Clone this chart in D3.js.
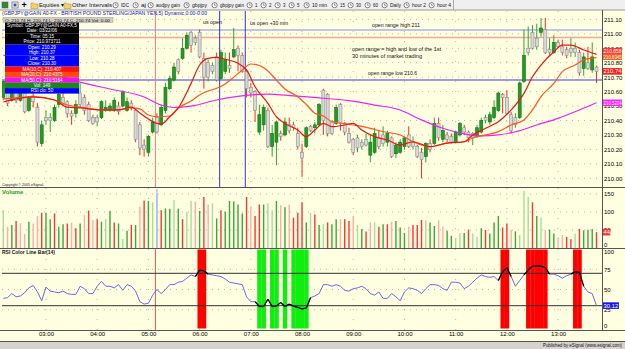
<!DOCTYPE html>
<meta charset="utf-8">
<body>
<script src="https://cdn.jsdelivr.net/npm/d3@7/dist/d3.min.js"></script>
<style>
    html, body { margin: 0; background: #fff; }
    svg { display: block; }
    text { font-family: "Liberation Sans", Arial, sans-serif; }
</style>
<script>
// GBPJPY 5 min bars
var startTime = new Date(2006, 2, 22, 2, 10),
    barMinutes = 5;

var open = [
  210.56,210.62,210.54,210.61,210.54,210.59,210.47,210.57,210.49,210.24,
  210.42,210.42,210.40,210.51,210.56,210.53,210.45,210.45,210.59,210.56,
  210.51,210.42,210.42,210.42,210.47,210.47,210.47,210.50,210.50,210.47,
  210.52,210.47,210.37,210.23,210.18,210.32,210.42,210.37,210.47,210.62,
  210.68,210.82,210.83,210.90,211.01,210.97,211.01,210.83,210.80,210.78,
  210.84,210.69,210.74,210.78,210.84,210.90,210.85,210.74,210.63,210.60,
  210.32,210.37,210.47,210.22,210.25,210.31,210.30,210.37,210.37,210.31,
  210.18,210.22,210.36,210.35,210.37,210.61,210.58,210.39,210.38,210.51,
  210.38,210.31,210.27,210.28,210.25,210.27,210.16,210.18,210.28,210.30,
  210.25,210.28,210.17,210.18,210.22,210.30,210.25,210.22,210.18,210.15,
  210.24,210.24,210.38,210.27,210.30,210.29,210.25,210.30,210.35,210.32,
  210.31,210.29,210.32,210.42,210.39,210.42,210.47,210.58,210.56,210.44,
  210.42,210.42,210.67,210.90,211.01,210.97,211.01,211.03,210.89,210.87,
  210.94,210.91,210.89,210.90,210.90,210.87,210.76,210.80,210.75,210.77];
var high = [
  210.68,210.65,210.64,210.62,210.62,210.61,210.57,210.59,210.52,210.40,
  210.47,210.45,210.51,210.59,210.59,210.54,210.47,210.54,210.66,210.58,
  210.53,210.44,210.44,210.54,210.54,210.52,210.56,210.53,210.61,210.56,
  210.54,210.48,210.39,210.27,210.30,210.42,210.45,210.51,210.66,210.71,
  210.80,210.83,210.97,211.01,211.02,210.99,211.03,210.87,210.82,210.80,
  210.87,210.89,210.87,210.87,211.04,210.92,210.87,210.75,210.66,210.61,
  210.51,210.51,210.49,210.37,210.40,210.33,210.42,210.42,210.39,210.35,
  210.24,210.36,210.37,210.39,210.52,210.62,210.59,210.40,210.51,210.52,
  210.39,210.35,210.28,210.30,210.27,210.31,210.30,210.35,210.33,210.36,
  210.33,210.29,210.25,210.27,210.29,210.36,210.29,210.23,210.21,210.25,
  210.27,210.42,210.42,210.37,210.32,210.31,210.33,210.39,210.37,210.33,
  210.32,210.37,210.42,210.44,210.46,210.54,210.60,210.59,210.61,210.46,
  210.45,210.67,211.03,211.05,211.06,211.07,211.11,211.11,210.97,210.99,
  210.96,210.96,210.91,210.97,210.94,210.89,210.87,210.91,210.94,210.78];
var low = [
  210.54,210.50,210.53,210.52,210.53,210.45,210.46,210.49,210.22,210.22,
  210.37,210.32,210.39,210.49,210.50,210.42,210.37,210.42,210.49,210.44,
  210.39,210.37,210.36,210.41,210.46,210.46,210.46,210.44,210.49,210.46,
  210.47,210.25,210.16,210.15,210.15,210.31,210.31,210.36,210.45,210.61,
  210.67,210.72,210.82,210.89,210.87,210.92,210.83,210.62,210.67,210.72,
  210.67,210.68,210.72,210.73,210.83,210.74,210.73,210.56,210.56,210.39,
  210.30,210.33,210.21,210.15,210.09,210.26,210.29,210.31,210.33,210.20,
  210.01,210.21,210.32,210.31,210.36,210.30,210.29,210.30,210.37,210.33,
  210.30,210.24,210.16,210.18,210.20,210.22,210.11,210.17,210.20,210.22,
  210.22,210.14,210.14,210.17,210.20,210.21,210.20,210.14,210.00,210.11,
  210.18,210.23,210.26,210.25,210.25,210.24,210.24,210.29,210.30,210.25,
  210.23,210.28,210.31,210.38,210.37,210.41,210.46,210.45,210.44,210.31,
  210.35,210.41,210.66,210.85,210.89,210.89,210.98,210.86,210.85,210.86,
  210.90,210.85,210.83,210.84,210.84,210.71,210.71,210.75,210.73,210.66];
var close = [
  210.67,210.52,210.61,210.54,210.60,210.46,210.56,210.53,210.25,210.37,
  210.40,210.40,210.49,210.58,210.52,210.45,210.43,210.51,210.51,210.47,
  210.40,210.38,210.39,210.53,210.49,210.50,210.54,210.46,210.60,210.53,
  210.49,210.27,210.21,210.20,210.29,210.39,210.32,210.49,210.63,210.69,
  210.77,210.74,210.90,210.99,210.92,210.94,210.84,210.70,210.70,210.74,
  210.68,210.87,210.82,210.76,210.89,210.85,210.74,210.62,210.59,210.47,
  210.44,210.49,210.22,210.31,210.39,210.29,210.39,210.33,210.35,210.22,
  210.14,210.35,210.33,210.37,210.51,210.40,210.31,210.31,210.49,210.38,
  210.32,210.25,210.18,210.21,210.22,210.23,210.25,210.31,210.22,210.24,
  210.31,210.15,210.23,210.25,210.28,210.22,210.22,210.15,210.13,210.24,
  210.20,210.38,210.28,210.33,210.27,210.25,210.32,210.38,210.32,210.28,
  210.28,210.35,210.40,210.40,210.44,210.49,210.59,210.56,210.45,210.33,
  210.37,210.66,210.85,210.87,210.90,210.91,211.04,210.87,210.87,210.94,
  210.91,210.87,210.85,210.87,210.87,210.73,210.84,210.76,210.84,210.74];

var volume = [
  105,59,64,75,68,39,73,68,89,98, 98,80,96,59,66,68,70,55,68,92,
  104,78,80,73,80,103,71,68,25,48, 64,64,115,132,131,127,149,105,110,109,
  133,109,80,100,131,129,103,142,121,124, 82,105,101,131,129,121,96,142,115,89,
  121,121,124,105,131,119,113,121,84,98, 127,71,98,93,64,66,71,66,80,80,
  80,75,89,64,53,46,71,71,59,66, 66,73,75,57,42,59,64,64,78,77,
  71,61,77,59,48,34,27,42,42,51, 40,31,55,50,40,71,89,57,68,51,
  46,36,158,142,127,89,84,51,51,40, 29,36,31,24,40,53,49,51,53,44];
// G up, g weak up, R down, r weak down, b selected bar
var volTone = ("grGRrrGrrR" + "GGRGGRrRGr" + "RrRGgGRGgG" + "RGrRGgbRGG" +
               "gGRggrGRrg" + "GRGGGGGRrR" + "RGggGrGrRR" + "RGgRGgRGGr" +
               "RRrgGRrgRG" + "RrGGGrRRRg" + "GGrrGGggGR" + "ggGRGGGRRr" +
               "GgggRGgrGG" + "rrRRgRGGGR").split("");

var rsi = [
  39,40,45,41,42,46,52,55,47,36, 53,48,47,46,48,45,44,44,54,51,
  45,45,54,60,54,54,52,56,49,56, 54,48,35,32,33,43,50,45,50,56,
  56,59,60,64,68,66,74,73,69,68, 67,66,63,59,58,57,56,41,35,35,
  29,29,38,29,29.5,34,29,32,29.5,28, 26,27,40,42,45,56,56,54,56,54,
  49,48,51,52,54,51,45,43,47,39, 39,45,41,36,47,52,51,49,45,51,
  56,56,55,51,49,59,59,58,51,54, 59,64,68,66,65,66,61,72,77,66,
  54,61,68,74,79,79,79,77,69,69, 67,64,67,69,72,71,54,47,45,30.12];

// moving averages read at sample bars
var ma10Bars = [0,7,12,15,18,23,27,30,32,34,36,37,39,41,44,46,48,50,52,55,57,59,62,64,66,69,71,73,75,77,80,82,84,87,90,93,96,100,104,108,110,113,116,119,122,124,126,129,131,133,136,139];
var ma10 = [210.528,210.563,210.542,210.493,210.487,210.473,210.473,210.493,210.452,210.41,210.38,210.375,210.426,210.487,210.657,210.784,210.83,210.837,210.824,210.796,210.75,210.634,210.519,210.426,210.38,210.334,210.288,210.334,210.38,210.357,210.369,210.38,210.334,210.288,210.265,210.23,210.253,210.219,210.244,210.253,210.30,210.346,210.392,210.473,210.588,210.703,210.784,210.876,210.922,210.922,210.888,210.858];
var ma20Bars = [0,7,12,15,18,23,27,30,32,34,36,39,41,44,46,48,50,52,54,56,58,60,62,64,66,69,71,73,75,77,80,82,84,87,90,93,96,100,104,108,110,113,116,119,122,124,126,129,131,134,136,139];
var ma20 = [210.549,210.563,210.542,210.507,210.493,210.473,210.473,210.487,210.48,210.438,210.426,210.431,210.487,210.535,210.577,210.604,210.623,210.653,210.70,210.75,210.791,210.781,210.743,210.68,210.618,210.565,210.511,210.45,210.431,210.392,210.379,210.369,210.359,210.338,210.317,210.30,210.253,210.219,210.244,210.253,210.279,210.30,210.323,210.369,210.404,210.473,210.565,210.657,210.738,210.784,210.819,210.8345];
var ma50Bars = [0,18,25,33,37,40,44,50,57,62,68,75,81,87,93,98,103,108,112,116,120,125,130,135,139];
var ma50 = [210.853,210.666,210.618,210.563,210.507,210.49,210.50,210.542,210.574,210.583,210.57,210.554,210.537,210.507,210.473,210.404,210.346,210.307,210.293,210.30,210.322,210.369,210.415,210.473,210.5224];

var levels = [211.026, 210.974, 210.68];
var eventBars = [50.7, 56.7];
var cursorBar = 36;

var priceTicks = [210.0,210.1,210.2,210.3,210.4,210.5,210.6,210.7,210.8,210.9,211.0,211.1];
var volTicks = [0, 50, 100, 150];
var rsiTicks = [0, 25, 50, 75, 100];

var W = 625, H = 349, plotL = 2, plotR = 602;

var svg = d3.select("body").append("svg").attr("width", W).attr("height", H);

var barTime = function(b) { return new Date(+startTime + b * barMinutes * 60000); };
var x = d3.scaleTime().domain([barTime(0), barTime(open.length - 1)]).range([3.3, 596.5]);
var xb = function(b) { return x(barTime(b)); };
var y = d3.scaleLinear().domain([210, 211.1]).range([178.3, 19.35]);
var yv = d3.scaleLinear().domain([0, 150]).range([248, 194]);
var yr = d3.scaleLinear().domain([0, 100]).range([330, 249]);
var half = (xb(1) - xb(0)) / 2;

// backgrounds
svg.append("rect").attr("width", W).attr("height", H).attr("fill", "#ffffe1");
svg.append("rect").attr("width", W).attr("height", 10).attr("fill", "#efefef");
svg.append("rect").attr("y", 342).attr("width", W).attr("height", 7).attr("fill", "#d6d3ce");

// toolbar
var tb = svg.append("g");
tb.append("rect").attr("x", 2).attr("y", 2).attr("width", 6).attr("height", 6).attr("fill", "#2e8b2e").attr("stroke", "#555").attr("stroke-width", 0.5);
tb.append("rect").attr("x", 12).attr("y", 2).attr("width", 6).attr("height", 6).attr("fill", "#fff").attr("stroke", "#444").attr("stroke-width", 0.6);
tb.append("rect").attr("x", 13.5).attr("y", 3.5).attr("width", 3).attr("height", 3).attr("fill", "#3355cc");
tb.append("text").attr("x", 21.5).attr("y", 8).attr("font-size", 9).attr("font-weight", "bold").text("+");
var tools = [
  {icon: "folder", text: "Equities \u25be", x: 31, w: 25},
  {icon: "folder", text: "Other Intervals \u25be", x: 64, w: 45},
  {icon: "clock", text: "IDC", x: 113, w: 8},
  {icon: "clock", text: "aj", x: 133, w: 5},
  {icon: "clock", text: "audjpy gain", x: 148, w: 24},
  {icon: "clock", text: "gbpjpy", x: 184, w: 15},
  {icon: "clock", text: "gbpjpy gain", x: 212, w: 24},
  {icon: "clock", text: "1", x: 247, w: 2.5},
  {icon: "clock", text: "2", x: 261, w: 2.5},
  {icon: "clock", text: "3", x: 275, w: 2.5},
  {icon: "clock", text: "5", x: 289, w: 2.5},
  {icon: "clock", text: "10 min", x: 304, w: 15},
  {icon: "clock", text: "15", x: 332, w: 5},
  {icon: "clock", text: "30", x: 348, w: 5},
  {icon: "clock", text: "60", x: 365, w: 5},
  {icon: "clock", text: "Daily", x: 382, w: 11},
  {icon: "clock", text: "hour 2", x: 404, w: 14},
  {icon: "clock", text: "hour 4", x: 429, w: 14}
];
tools.forEach(function(t) {
  if (t.icon === "folder") {
    tb.append("path").attr("d", "M" + t.x + ",3h2.5l1,1h3.5v4.5h-7z")
      .attr("fill", "#f5d35f").attr("stroke", "#a88a2a").attr("stroke-width", 0.5);
  } else {
    tb.append("circle").attr("cx", t.x + 2.6).attr("cy", 5.2).attr("r", 2.6)
      .attr("fill", "#fff").attr("stroke", "#333").attr("stroke-width", 0.6);
    tb.append("path").attr("d", "M" + (t.x + 2.6) + ",3.6v1.7h1.3").attr("fill", "none")
      .attr("stroke", "#333").attr("stroke-width", 0.5);
  }
  tb.append("text").attr("x", t.x + 8).attr("y", 7.3).attr("font-size", 5.6)
    .attr("textLength", t.w).attr("lengthAdjust", "spacingAndGlyphs").attr("fill", "#111").text(t.text);
});
tb.append("line").attr("x1", 453.5).attr("x2", 453.5).attr("y1", 0).attr("y2", 10).attr("stroke", "#aaa");
svg.append("line").attr("x1", 0).attr("x2", W).attr("y1", 10).attr("y2", 10).attr("stroke", "#999");

// grids
var grid = svg.append("g").attr("stroke", "#c99a86").attr("stroke-width", 0.8).attr("stroke-dasharray", "1,5");
grid.selectAll(".hp").data(priceTicks).enter().append("line")
  .attr("x1", plotL).attr("x2", plotR).attr("y1", function(d) { return y(d); }).attr("y2", function(d) { return y(d); });
grid.selectAll(".hv").data([50, 100, 150]).enter().append("line")
  .attr("x1", plotL).attr("x2", plotR).attr("y1", function(d) { return yv(d); }).attr("y2", function(d) { return yv(d); });
grid.selectAll(".hr").data([25, 50, 75]).enter().append("line")
  .attr("x1", plotL).attr("x2", plotR).attr("y1", function(d) { return yr(d); }).attr("y2", function(d) { return yr(d); });
var hours = x.ticks(d3.timeHour.every(1));
[[11, 187], [188, 248], [249, 330]].forEach(function(p) {
  grid.selectAll(null).data(hours).enter().append("line")
    .attr("stroke-dasharray", "1,9")
    .attr("x1", function(d) { return x(d); }).attr("x2", function(d) { return x(d); })
    .attr("y1", p[0]).attr("y2", p[1]);
});

// horizontal levels
var levelColors = ["#aab2ee", "#f2a898", "#3b3bdc"];
svg.selectAll(".lvl").data(levels).enter().append("line")
  .attr("x1", plotL).attr("x2", plotR)
  .attr("y1", function(d) { return y(d); }).attr("y2", function(d) { return y(d); })
  .attr("stroke", function(d, i) { return levelColors[i]; })
  .attr("stroke-width", function(d, i) { return i < 2 ? 1.6 : 1.1; });

// event verticals
svg.selectAll(".ev").data(eventBars).enter().append("line")
  .attr("x1", function(d) { return xb(d); }).attr("x2", function(d) { return xb(d); })
  .attr("y1", 11).attr("y2", 187).attr("stroke", "#3434cc").attr("stroke-width", 1);

// cursor line
svg.append("line").attr("x1", xb(cursorBar) - 1.5).attr("x2", xb(cursorBar) - 1.5)
  .attr("y1", 11).attr("y2", 187).attr("stroke", "#ee8080").attr("stroke-width", 1);

// candles
var bars = d3.range(open.length).map(function(i) {
  return {i: i, o: open[i], h: high[i], l: low[i], c: close[i],
          up: close[i] > open[i], gain: i === 0 || close[i] >= close[i - 1]};
});
svg.append("clipPath").attr("id", "cp").append("rect")
  .attr("x", plotL).attr("y", 11).attr("width", plotR - plotL).attr("height", 176);
var cg = svg.append("g").attr("clip-path", "url(#cp)");

var c = cg.selectAll(".cd").data(bars).enter().append("g");
c.append("line")
  .attr("x1", function(d) { return xb(d.i); }).attr("x2", function(d) { return xb(d.i); })
  .attr("y1", function(d) { return y(d.h); }).attr("y2", function(d) { return y(d.l); })
  .attr("stroke", function(d) { return d.up || d.gain ? "#2fa82f" : "#ff2a2a"; })
  .attr("stroke-width", 1);
c.append("rect")
  .attr("x", function(d) { return xb(d.i) - 1.5; })
  .attr("width", 3)
  .attr("y", function(d) { return y(Math.max(d.o, d.c)); })
  .attr("height", function(d) { return Math.max(1, Math.abs(y(d.o) - y(d.c))); })
  .attr("fill", function(d) { return d.up ? "#239b23" : "#d9d9d9"; })
  .attr("stroke", function(d) { return d.up ? "#13701a" : "#8c8c8c"; })
  .attr("stroke-width", 0.6);

var maLine = function(bs, vs) {
  return d3.line().curve(d3.curveMonotoneX)(bs.map(function(b, k) { return [xb(b), y(vs[k])]; }));
};
cg.append("path").attr("d", maLine(ma50Bars, ma50)).attr("fill", "none").attr("stroke", "#ee22ee").attr("stroke-width", 1.2);
cg.append("path").attr("d", maLine(ma20Bars, ma20)).attr("fill", "none").attr("stroke", "#ff5522").attr("stroke-width", 1.2);
cg.append("path").attr("d", maLine(ma10Bars, ma10)).attr("fill", "none").attr("stroke", "#ee1414").attr("stroke-width", 1.2);

// annotations
var notes = [
  {t: "us open", x: 203, y: 23.5, w: 19},
  {t: "us open +30 min", x: 250, y: 24.5, w: 38},
  {t: "open range high 211", x: 372, y: 26.5, w: 48},
  {t: "open range = high and low of the 1st", x: 352, y: 51, w: 89},
  {t: "30 minutes of market trading", x: 352, y: 57.5, w: 70},
  {t: "open range low 210.6", x: 368, y: 74.5, w: 49}
];
svg.selectAll(".note").data(notes).enter().append("text")
  .attr("x", function(d) { return d.x; }).attr("y", function(d) { return d.y; })
  .attr("font-size", 5.6).attr("fill", "#111")
  .attr("textLength", function(d) { return d.w; }).attr("lengthAdjust", "spacingAndGlyphs")
  .text(function(d) { return d.t; });

// title + small ohlc box
svg.append("text").attr("x", 2).attr("y", 15.3).attr("font-size", 6.2).attr("fill", "#1515c8")
  .attr("textLength", 205).attr("lengthAdjust", "spacingAndGlyphs")
  .text("(GBPJPY@GAIN A0-FX - BRITISH POUND STERLING/JAPAN YEN,5) Dynamic,0:00-0:00");
svg.append("rect").attr("x", 3).attr("y", 17.5).attr("width", 110).attr("height", 5).attr("fill", "#d4d0c8").attr("stroke", "#888").attr("stroke-width", 0.4);
svg.append("text").attr("x", 5).attr("y", 21.6).attr("font-size", 4.4).attr("fill", "#000")
  .attr("textLength", 105).attr("lengthAdjust", "spacingAndGlyphs")
  .text("O: 210.74   H: 210.74   L: 210.74   C: 210.74   Vol: 0.00");

// info box
var infoRows = [
  ["#000000", "Symbol: GBPJPY@GAIN A0-FX,5", 5.5],
  ["#000000", "Date: 03/22/06", 5.5],
  ["#000000", "Time: 05:15", 5.5],
  ["#000000", "Price: 210.973711", 5.5],
  ["#0000ff", "Open: 210.29", 5.5],
  ["#0000ff", "High: 210.37", 5.5],
  ["#0000ff", "Low: 210.28", 5.5],
  ["#0000ff", "Close: 210.30", 5.5],
  ["#ff1010", "MA(10,C): 210.407", 5.4],
  ["#ff4a10", "MA(20,C): 210.4375", 5.4],
  ["#ee10ee", "MA(50,C): 210.5164", 5.4],
  ["#158a15", "Vol: 149", 5.4],
  ["#0000ff", "RSI clo: 50", 5.4]
];
var iy = 22.5;
infoRows.forEach(function(r) {
  svg.append("rect").attr("x", 5).attr("y", iy).attr("width", 74).attr("height", r[2] + 0.1).attr("fill", r[0]);
  svg.append("text").attr("x", 42).attr("y", iy + r[2] - 1.2).attr("text-anchor", "middle")
    .attr("font-size", 4.6).attr("fill", "#fff").text(r[1]);
  iy += r[2];
});

svg.append("text").attr("x", 2).attr("y", 185.5).attr("font-size", 3.6).attr("fill", "#222")
  .text("Copyright \u00a9 2005 eSignal.");

// volume
var volColor = {G: "#3aa83a", g: "#a9dc9d", R: "#ff3535", r: "#ffaea6", b: "#a9c2e6"};
svg.selectAll(".vb").data(bars).enter().append("line")
  .attr("x1", function(d) { return xb(d.i); }).attr("x2", function(d) { return xb(d.i); })
  .attr("y1", 248).attr("y2", function(d) { return yv(volume[d.i]); })
  .attr("stroke", function(d) { return volColor[volTone[d.i]]; }).attr("stroke-width", 1.4);
svg.append("line").attr("x1", xb(cursorBar)).attr("x2", xb(cursorBar)).attr("y1", 189).attr("y2", 248)
  .attr("stroke", "#a9c2e6").attr("stroke-width", 1.4);
svg.append("text").attr("x", 2).attr("y", 194).attr("font-size", 6).attr("font-weight", "bold")
  .attr("fill", "#22a022").text("Volume");

// rsi zones
var zone = rsi.map(function(v) { return v > 70 ? "hi" : v < 30 ? "lo" : null; });
svg.selectAll(".rz").data(bars.filter(function(d) { return zone[d.i]; })).enter().append("rect")
  .attr("x", function(d) { return xb(d.i) - half; }).attr("width", half * 2 + 0.2)
  .attr("y", 249.5).attr("height", 79)
  .attr("fill", function(d) { return zone[d.i] === "hi" ? "#ff0000" : "#10ee10"; });
svg.append("line").attr("x1", xb(cursorBar) - 1.5).attr("x2", xb(cursorBar) - 1.5).attr("y1", 249).attr("y2", 330)
  .attr("stroke", "#ee5555").attr("stroke-width", 1);
svg.selectAll(".rl").data([70, 30]).enter().append("line")
  .attr("x1", plotL).attr("x2", plotR)
  .attr("y1", function(d) { return yr(d); }).attr("y2", function(d) { return yr(d); })
  .attr("stroke", "#333").attr("stroke-width", 1);
var rsiLine = d3.line().x(function(d) { return xb(d.i); }).y(function(d) { return yr(rsi[d.i]); });
svg.append("path").attr("d", rsiLine(bars)).attr("fill", "none").attr("stroke", "#6868ee").attr("stroke-width", 1);
bars.slice(1).forEach(function(d) {
  if (zone[d.i] || zone[d.i - 1]) {
    svg.append("path").attr("d", rsiLine([bars[d.i - 1], d])).attr("fill", "none")
      .attr("stroke", "#000").attr("stroke-width", 1.3);
  }
});
svg.append("text").attr("x", 2).attr("y", 254).attr("font-size", 5.8).attr("font-weight", "bold")
  .attr("fill", "#111").attr("textLength", 53).attr("lengthAdjust", "spacingAndGlyphs")
  .text("RSI Color Line Bar(14)");

// panel frames
svg.selectAll(".sep").data([187.5, 248.5, 330.5, 341.5]).enter().append("line")
  .attr("x1", 0).attr("x2", W).attr("y1", function(d) { return d; }).attr("y2", function(d) { return d; })
  .attr("stroke", "#555").attr("stroke-width", 1);
svg.append("line").attr("x1", 602.5).attr("x2", 602.5).attr("y1", 10).attr("y2", 330.5).attr("stroke", "#555");

// axes
function styleAxis(g) {
  g.select(".domain").remove();
  g.attr("font-family", "Liberation Sans, Arial, sans-serif").attr("font-size", 6);
  g.selectAll("text").attr("fill", "#000");
}
svg.append("g").attr("transform", "translate(603,0)")
  .call(d3.axisRight(y).tickValues(priceTicks).tickSize(0).tickPadding(1).tickFormat(d3.format(".2f")))
  .call(styleAxis);
svg.append("g").attr("transform", "translate(603,0)")
  .call(d3.axisRight(yv).tickValues(volTicks).tickSize(0).tickPadding(1))
  .call(styleAxis)
  .selectAll(".tick text").attr("dy", function(d) { return d === 0 ? "-0.2em" : "0.32em"; });
svg.append("g").attr("transform", "translate(603,0)")
  .call(d3.axisRight(yr).tickValues(rsiTicks).tickSize(0).tickPadding(1))
  .call(styleAxis)
  .selectAll(".tick text").attr("dy", function(d) { return d === 0 ? "-0.35em" : d === 100 ? "0.8em" : "0.32em"; });
svg.append("g").attr("transform", "translate(0,331)")
  .call(d3.axisBottom(x).ticks(d3.timeHour.every(1)).tickSize(0).tickPadding(1).tickFormat(d3.timeFormat("%H:%M")))
  .call(styleAxis);

// value flags on the right axis
var last = open.length - 1;
var flags = [
  {y: y(ma50[ma50.length - 1]), t: d3.format(".4f")(ma50[ma50.length - 1]), f: "#ff22ff"},
  {y: y(ma10[ma10.length - 1]) - 3, t: d3.format(".3f")(ma10[ma10.length - 1]), f: "#ff3030"},
  {y: y(ma20[ma20.length - 1]) - 1, t: d3.format(".4f")(ma20[ma20.length - 1]), f: "#ff5a1e"},
  {y: y(close[last]), t: d3.format(".2f")(close[last]), f: "#ff1c1c"},
  {y: yv(volume[last]), t: String(volume[last]), f: "#ff3030"},
  {y: yr(rsi[last]), t: d3.format(".2f")(rsi[last]), f: "#1a1ae6"}
];
var flagW = function(d) { return Math.min(19, d.t.length * 2.9 + 1.5); };
var fg = svg.selectAll(".flag").data(flags).enter().append("g");
fg.append("rect").attr("x", 603).attr("y", function(d) { return d.y - 3.3; })
  .attr("width", flagW).attr("height", 6.6).attr("fill", function(d) { return d.f; });
fg.append("text").attr("x", 603.6).attr("y", function(d) { return d.y + 2.1; })
  .attr("font-size", 5.8).attr("fill", "#fff")
  .each(function(d) {
    if (d.t.length > 5) d3.select(this).attr("textLength", flagW(d) - 1).attr("lengthAdjust", "spacingAndGlyphs");
  })
  .text(function(d) { return d.t; });

svg.append("text").attr("x", 622).attr("y", 347).attr("text-anchor", "end").attr("font-size", 5)
  .attr("fill", "#111").attr("textLength", 79).attr("lengthAdjust", "spacingAndGlyphs")
  .text("Published by eSignal (www.esignal.com)");
</script>
